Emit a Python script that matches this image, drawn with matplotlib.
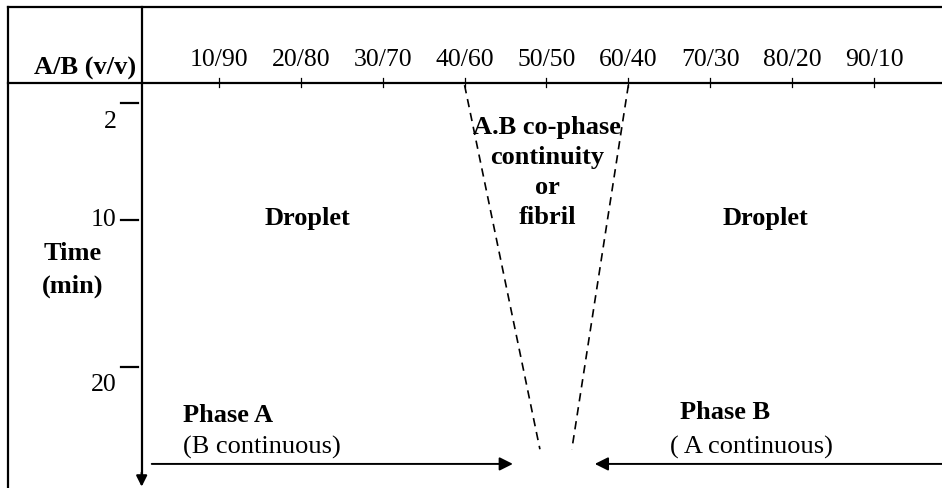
import matplotlib.pyplot as plt

plt.rcParams['font.family'] = ['Liberation Serif', 'DejaVu Serif']

# ---------------------------------------------------------------
# data (x = volume % of A, y = time in min)
# ---------------------------------------------------------------
RATIO_A = [10, 20, 30, 40, 50, 60, 70, 80, 90]
RATIO_LABELS = ['10/90', '20/80', '30/70', '40/60', '50/50',
                '60/40', '70/30', '80/20', '90/10']
TIME_TICKS = [2, 10, 20]
TIME_LABELS = ['2', '10', '20']

# co-phase boundaries (A %) at top and bottom of the diagram
CO_PHASE_TIME = [0.8, 25.6]
CO_PHASE_LEFT = [40, 49.2]
CO_PHASE_RIGHT = [60, 53.1]

# phase arrows (A %), at the bottom of the diagram
ARROW_TIME = 26.6
PHASE_A_ARROW = [1.8, 45.9]
PHASE_B_ARROW = [98.3, 55.9]

# ---------------------------------------------------------------
# figure: one axes spanning the whole canvas, drawn by hand
# ---------------------------------------------------------------
fig = plt.figure(figsize=(9.42, 4.88), dpi=100)
ax = fig.add_axes([0, 0, 1, 1])
ax.set_xlim(-16.73, 98.3)
ax.set_ylim(28.24, -5.0)
ax.axis('off')

FS = 19
FS_TICK = 18.5
LW = 1.6
HEADER_T = 0.62
AXIS_X = 0.57
DASH = (0, (5, 3.5))

# table frame
ax.plot([-15.7, 98.3], [-4.5, -4.5], color='black', lw=LW)
ax.plot([-15.7, -15.7], [-4.5, 28.3], color='black', lw=LW)
ax.plot([-15.7, 98.3], [HEADER_T, HEADER_T], color='black', lw=LW)

# vertical time axis with arrow
ax.plot([AXIS_X, AXIS_X], [-4.5, 27.4], color='black', lw=LW)
ax.annotate('', xy=(AXIS_X, 28.15), xytext=(AXIS_X, 27.2),
            arrowprops=dict(arrowstyle='-|>', color='black', lw=LW,
                            mutation_scale=16, shrinkA=0, shrinkB=0))

# composition ticks / labels
for a, lab in zip(RATIO_A, RATIO_LABELS):
    ax.plot([a, a], [HEADER_T - 0.3, HEADER_T + 0.3], color='black', lw=0.9)
    ax.text(a, -0.5, lab, ha='center', va='baseline', fontsize=FS_TICK)
ax.text(-6.4, 0.1, 'A/B (v/v)', ha='center', va='baseline',
        fontsize=FS, fontweight='bold')

# time ticks / labels
label_drop = [1.3, 0.0, 1.2]
for t, lab, d in zip(TIME_TICKS, TIME_LABELS, label_drop):
    ax.plot([-1.95, 0.1], [t, t], color='black', lw=LW)
    ax.text(-2.5, t + d, lab, ha='right', va='center', fontsize=FS_TICK)
ax.text(-7.9, 13.4, 'Time\n(min)', ha='center', va='center',
        fontsize=FS, fontweight='bold', linespacing=1.55)

# co-phase region boundaries
ax.plot(CO_PHASE_LEFT, CO_PHASE_TIME, color='black', lw=1.2, linestyle=DASH)
ax.plot(CO_PHASE_RIGHT, CO_PHASE_TIME, color='black', lw=1.2, linestyle=DASH)

# region labels
ax.text(20.8, 9.85, 'Droplet', ha='center', va='center',
        fontsize=FS, fontweight='bold')
ax.text(76.8, 9.85, 'Droplet', ha='center', va='center',
        fontsize=FS, fontweight='bold')
ax.text(50.1, 6.75, 'A.B co-phase\ncontinuity\nor\nfibril', ha='center',
        va='center', fontsize=FS, fontweight='bold', linespacing=1.4)

# phase arrows and captions
arrow_kw = dict(arrowstyle='-|>', color='black', lw=1.4,
                mutation_scale=20, shrinkA=0, shrinkB=0)
ax.annotate('', xy=(PHASE_A_ARROW[1], ARROW_TIME),
            xytext=(PHASE_A_ARROW[0], ARROW_TIME), arrowprops=arrow_kw)
ax.annotate('', xy=(PHASE_B_ARROW[1], ARROW_TIME),
            xytext=(PHASE_B_ARROW[0], ARROW_TIME), arrowprops=arrow_kw)

ax.text(5.6, 23.3, 'Phase A', ha='left', va='center',
        fontsize=FS, fontweight='bold')
ax.text(5.6, 25.45, '(B continuous)', ha='left', va='center', fontsize=FS)
ax.text(66.3, 23.1, 'Phase B', ha='left', va='center',
        fontsize=FS, fontweight='bold')
ax.text(65.1, 25.5, '( A continuous)', ha='left', va='center', fontsize=FS)

fig.savefig('out.png', dpi=100)
